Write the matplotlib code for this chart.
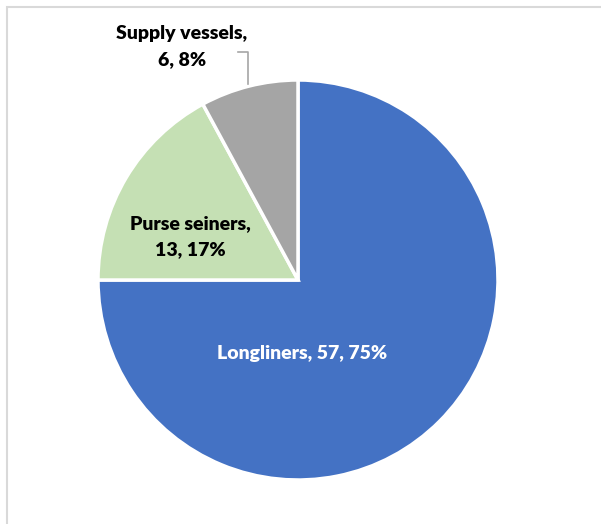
import matplotlib
matplotlib.use("Agg")
import matplotlib.pyplot as plt
from matplotlib.patches import Rectangle

categories = ["Longliners", "Purse seiners", "Supply vessels"]
counts = [57, 13, 6]
colors = ["#4472C4", "#C5E0B4", "#A5A5A5"]

W, H = 601, 524
fig = plt.figure(figsize=(W / 100, H / 100), dpi=100)
ax = fig.add_axes([0, 0, 1, 1])

# chart area border
ax.add_patch(Rectangle((7, -10), W + 20, H - 7 + 10, fill=False,
                       edgecolor="#D9D9D9", linewidth=1.5))

cx, cy, r = 298, H - 280, 200
wedges, _ = ax.pie(counts, colors=colors, startangle=90, counterclock=False,
                   center=(cx, cy), radius=r, frame=True,
                   wedgeprops=dict(edgecolor="white", linewidth=2.5))
ax.set_xlim(0, W)
ax.set_ylim(0, H)
ax.set_aspect("equal")
ax.axis("off")

total = sum(counts)
labels = [f"{c},\n{v}, {round(100 * v / total)}%" for c, v in zip(categories, counts)]
labels[0] = labels[0].replace("\n", " ")

font = dict(family="Lato", fontweight="heavy", fontsize=14, ha="center",
            va="center", linespacing=1.65)
ax.text(302, H - 353, labels[0], color="white", **font)
ax.text(190, H - 237, labels[1], color="black", **font)
ax.text(182, H - 47, labels[2], color="black", **font)

# leader line for the small slice
ax.plot([238, 248, 248], [H - 52, H - 52, H - 84], color="#A6A6A6", lw=1.2)

fig.savefig("out.png", dpi=100)
